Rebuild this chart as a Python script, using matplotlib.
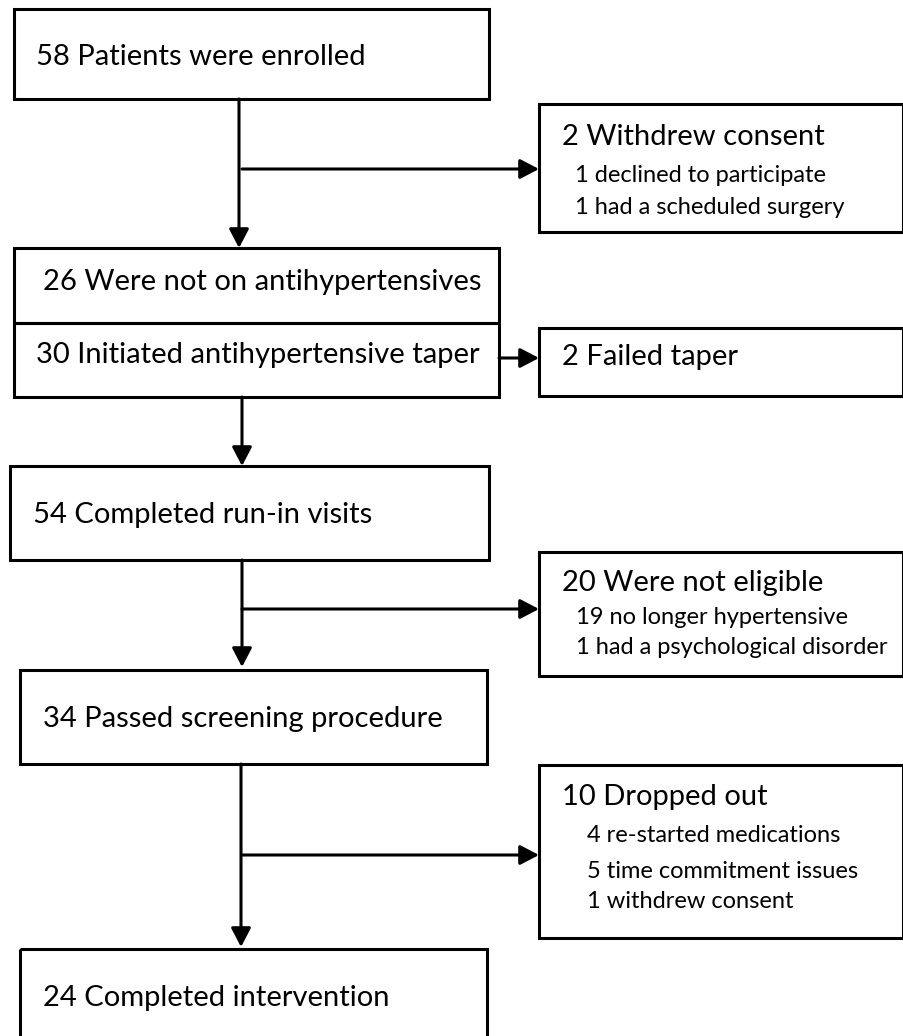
"""Flow diagram of patient enrollment and retention."""
import matplotlib.pyplot as plt
from matplotlib.patches import Rectangle

# Main-stream box labels, top to bottom.
main_labels = [
    "58 Patients were enrolled",
    "26 Were not on antihypertensives",
    "30 Initiated antihypertensive taper",
    "54 Completed run-in visits",
    "34 Passed screening procedure",
    "24 Completed intervention",
]

# Side boxes: heading plus detail lines.
side_headings = [
    "2 Withdrew consent",
    "2 Failed taper",
    "20 Were not eligible",
    "10 Dropped out",
]
side_details = [
    ["1 declined to participate", "1 had a scheduled surgery"],
    [],
    ["19 no longer hypertensive", "1 had a psychological disorder"],
    ["4 re-started medications", "5 time commitment issues", "1 withdrew consent"],
]

plt.rcParams["font.family"] = ["Liberation Sans Narrow", "Lato", "DejaVu Sans"]

W, H = 904, 1036
fig = plt.figure(figsize=(W / 100, H / 100), dpi=100)
ax = fig.add_axes([0, 0, 1, 1])
ax.set_xlim(0, W)
ax.set_ylim(H, 0)
ax.axis("off")

LW = 2.2
BIG = 21
SMALL = 17


def box(x0, y0, x1, y1):
    ax.add_patch(Rectangle((x0, y0), x1 - x0, y1 - y0, fill=False,
                           edgecolor="black", linewidth=LW))


def arrow(x0, y0, x1, y1):
    ax.annotate("", xy=(x1, y1), xytext=(x0, y0),
                arrowprops=dict(arrowstyle="-|>,head_length=1.15,head_width=0.6",
                                color="black", lw=LW, shrinkA=0, shrinkB=0))


# Main boxes.
box(14, 9, 489, 99)
box(14, 248, 499, 323)
box(14, 323, 499, 397)
box(10, 466, 489, 560)
box(20, 670, 487, 764)
box(20, 949, 487, 1045)

main_pos = [(36, 57), (43, 282), (36, 355), (33, 515), (43, 719), (43, 998)]
for (tx, ty), label in zip(main_pos, main_labels):
    ax.text(tx, ty, label, fontsize=BIG, va="center", ha="left")

# Side boxes.
side_boxes = [(539, 104, 903, 232), (539, 328, 903, 396),
              (539, 552, 903, 676), (539, 765, 903, 938)]
for b in side_boxes:
    box(*b)

head_y = [137, 357, 583, 797]
detail_x = [575, 575, 576, 587]
detail_y = [[175, 207], [], [618, 648], [835, 871, 901]]
for i, heading in enumerate(side_headings):
    ax.text(562, head_y[i], heading, fontsize=BIG, va="center", ha="left")
    for line, ly in zip(side_details[i], detail_y[i]):
        ax.text(detail_x[i], ly, line, fontsize=SMALL, va="center", ha="left")

# Vertical flow arrows.
arrow(239, 99, 239, 248)
arrow(242, 397, 242, 466)
arrow(242, 560, 242, 667)
arrow(241, 764, 241, 947)

# Horizontal exclusion arrows.
arrow(242, 169, 539, 169)
arrow(499, 358, 539, 358)
arrow(242, 609, 539, 609)
arrow(242, 855, 539, 855)

fig.savefig("out.png", dpi=100)
